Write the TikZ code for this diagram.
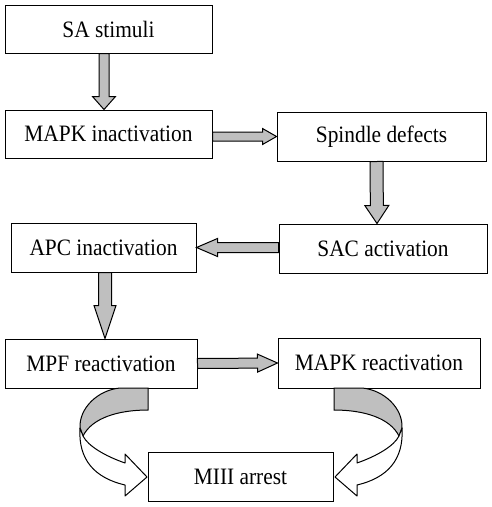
\documentclass[tikz,border=0pt]{standalone}
\usepackage{fontspec}
\setmainfont{Liberation Serif}[FakeStretch=0.91]
\usetikzlibrary{calc}
\tikzset{
  box/.style={draw=black, line width=1pt, fill=white, rectangle, inner sep=0pt,
    font=\fontsize{23.5}{26}\selectfont},
  blk/.style={draw=black, line width=1pt, fill=gray!50, line join=miter},
  wht/.style={draw=black, line width=1pt, fill=white, line join=round},
}
% block arrow: #1 from, #2 to, #3 shaft half width, #4 head half width, #5 head length
\newcommand\barrow[5]{%
  \coordinate (bs) at (#1);
  \coordinate (bt) at (#2);
  \coordinate (bh) at ($(bt)!#5!(bs)$);
  \path[blk] ($(bs)!#3!90:(bt)$) -- ($(bh)!#3!-90:(bs)$) -- ($(bh)!#4!-90:(bs)$)
    -- (bt) -- ($(bh)!#4!90:(bs)$) -- ($(bh)!#3!90:(bs)$) -- ($(bs)!#3!-90:(bt)$) -- cycle;
}
\newcommand\curvedpart{%
  \path[blk] (120,388) -- (148,388) -- (148,410)
    .. controls (118,410) and (92,418) .. (83,436) -- (80,428)
    .. controls (79,408) and (98,390) .. (120,388) -- cycle;
  \path[wht] (80,428) .. controls (78,460) and (95,478) .. (125,485)
    -- (125,496) -- (147,477) -- (125,454) -- (125,463)
    .. controls (105,456) and (88,446) .. (83,436) -- cycle;
}
\begin{document}
\begin{tikzpicture}[x=1pt,y=-1pt]
\useasboundingbox (0,0) rectangle (491,507);
\node[box, minimum width=207pt, minimum height=48pt] (sa) at (108.5,29) {SA stimuli};
\node[box, minimum width=207pt, minimum height=48pt] (mapki) at (108.5,134) {MAPK inactivation};
\node[box, minimum width=209pt, minimum height=49pt] (spindle) at (381.5,136.5) {Spindle defects};
\node[box, minimum width=208pt, minimum height=49pt] (sac) at (383,248.5) {SAC activation};
\node[box, minimum width=185pt, minimum height=49pt] (apc) at (103.5,247.5) {APC inactivation};
\node[box, minimum width=192pt, minimum height=49pt] (mpf) at (101,363.5) {MPF reactivation};
\node[box, minimum width=202pt, minimum height=50pt] (mapkr) at (379,363) {MAPK reactivation};
\node[box, minimum width=185pt, minimum height=49pt] (miii) at (240.5,476.5) {MIII arrest};

\barrow{[xshift=-4.5pt]sa.south}{[xshift=-4.5pt]mapki.north}{5pt}{11.5pt}{13pt}
\barrow{mapki.east |- spindle.west}{spindle.west}{4.5pt}{8pt}{14pt}
\barrow{[xshift=-5pt]spindle.south}{[xshift=-6pt]sac.north}{6.5pt}{12pt}{18pt}
\barrow{sac.west |- apc.east}{apc.east}{5pt}{9pt}{21pt}
\barrow{[xshift=1.5pt]apc.south}{[xshift=4pt]mpf.north}{6.5pt}{11pt}{33pt}
\barrow{mpf.east}{mapkr.west}{5pt}{9pt}{20pt}

\curvedpart
\begin{scope}[xshift=482pt, xscale=-1]
\curvedpart
\end{scope}
\end{tikzpicture}
\end{document}
